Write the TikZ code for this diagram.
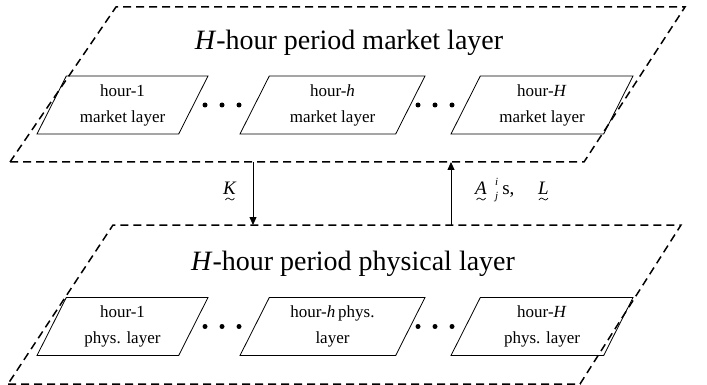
\documentclass[tikz,border=0pt]{standalone}
\usepackage{fontspec}
\setmainfont{Liberation Serif}
\usetikzlibrary{shapes.geometric,arrows.meta}
\newcommand{\scr}[1]{{\fontsize{11}{11}\selectfont\textit{#1}}}
\begin{document}
\begin{tikzpicture}[x=1pt,y=-1pt,
  layerline/.style={draw, dash pattern=on 8pt off 5pt, line width=1.5pt, line join=miter},
  hourbox/.style={draw, line width=0.8pt, trapezium, trapezium left angle=56,
    trapezium right angle=124, trapezium stretches body=true, inner sep=1pt,
    minimum height=58pt, align=center, font=\fontsize{17}{26}\selectfont},
  title/.style={font=\fontsize{28}{32}\selectfont, anchor=base},
  dotnode/.style={circle, fill, inner sep=0pt, minimum size=5pt},
  conn/.style={line width=0.8pt},
  lbl/.style={font=\fontsize{19}{20}\selectfont, anchor=base west, inner sep=0pt},
  tildemark/.pic={\draw[line width=0.7pt] (-4.5,1) .. controls (-2.5,-2) and (-1,-1) .. (0,0)
     .. controls (1,1) and (2.5,2) .. (4.5,-1);}
]
\useasboundingbox (0,0) rectangle (707,385);

% upper layer
\coordinate (mkBL) at (10,162);
\coordinate (mkBR) at (584,162);
\coordinate (mkTR) at (685,7);
\coordinate (mkTL) at (116,7);
\draw[layerline] (mkBL) -- (mkBR) -- (mkTR) -- (mkTL) -- cycle;
\node[title] (mkt) at (349,50) {\textit{H}-hour period market layer};
\node[hourbox, minimum width=171pt] (m1) at (122.5,105) {hour-1\\market layer};
\node[hourbox, minimum width=185pt] (mh) at (332.5,105) {hour-\textit{h}\\market layer};
\node[hourbox, minimum width=182pt] (mH) at (542,105) {hour-\textit{H}\\market layer};
\node[dotnode] (md1) at (205,105) {};
\node[dotnode] (md2) at (222,105) {};
\node[dotnode] (md3) at (239,105) {};
\node[dotnode] (md4) at (418,105) {};
\node[dotnode] (md5) at (435,105) {};
\node[dotnode] (md6) at (452,105) {};

% lower layer
\coordinate (phBL) at (8,384);
\coordinate (phBR) at (580,384);
\coordinate (phTR) at (681,225);
\coordinate (phTL) at (113,225);
\draw[layerline] (phBL) -- (phBR) -- (phTR) -- (phTL) -- cycle;
\node[title] (pht) at (353,270) {\textit{H}-hour period physical layer};
\node[hourbox, minimum width=171pt] (p1) at (122.5,326.5) {hour-1\\phys. layer};
\node[hourbox, minimum width=185pt] (phh) at (332.5,326.5) {hour-\textit{h}\,phys.\\layer};
\node[hourbox, minimum width=182pt] (pH) at (542,326.5) {hour-\textit{H}\\phys. layer};
\node[dotnode] (pd1) at (205,326.5) {};
\node[dotnode] (pd2) at (222,326.5) {};
\node[dotnode] (pd3) at (239,326.5) {};
\node[dotnode] (pd4) at (418,326.5) {};
\node[dotnode] (pd5) at (435,326.5) {};
\node[dotnode] (pd6) at (452,326.5) {};

% connectors
\coordinate (kx) at (253,0);
\coordinate (ax) at (451,0);
\draw[conn, -{Triangle[length=8pt,width=7pt]}] (kx |- mkBL) -- (kx |- phTL);
\draw[conn, -{Triangle[length=8pt,width=7pt]}] (ax |- phTL) -- (ax |- mkBL);

% labels
\node[lbl] (klab) at (223,194) {\textit{K}};
\pic at ([yshift=-5pt]klab.base) {tildemark};
\node[lbl] (alabA) at (475,194) {\textit{A}};
\pic at ([yshift=-5pt]alabA.base) {tildemark};
\node[lbl] (alabs) at (495,194)
  {\rlap{\raisebox{8.5pt}{\scr{i}}}\raisebox{-5pt}{\scr{j}}\kern4pt s,};
\node[lbl] (alabL) at (538,194) {\textit{L}};
\pic at ([yshift=-5pt]alabL.base) {tildemark};
\end{tikzpicture}
\end{document}
